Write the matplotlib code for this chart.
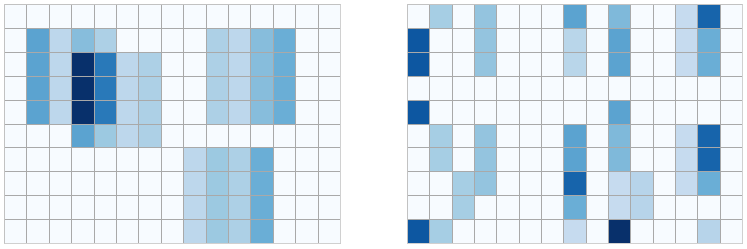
import numpy as np
import matplotlib
matplotlib.use("Agg")
import matplotlib.pyplot as plt

# --- data: cell intensities (0-100), 10 rows x 15 cols ---
left_rows = [
    [0, 0, 0, 0, 0, 0, 0, 0, 0, 0, 0, 0, 0, 0, 0],
    [0, 55, 28, 43, 33, 0, 0, 0, 0, 33, 28, 43, 50, 0, 0],
    [0, 55, 28, 100, 72, 28, 33, 0, 0, 33, 28, 43, 50, 0, 0],
    [0, 55, 28, 100, 72, 28, 33, 0, 0, 33, 28, 43, 50, 0, 0],
    [0, 55, 28, 100, 72, 28, 33, 0, 0, 33, 28, 43, 50, 0, 0],
    [0, 0, 0, 55, 38, 28, 33, 0, 0, 0, 0, 0, 0, 0, 0],
    [0, 0, 0, 0, 0, 0, 0, 0, 28, 38, 33, 50, 0, 0, 0],
    [0, 0, 0, 0, 0, 0, 0, 0, 28, 38, 33, 50, 0, 0, 0],
    [0, 0, 0, 0, 0, 0, 0, 0, 28, 38, 33, 50, 0, 0, 0],
    [0, 0, 0, 0, 0, 0, 0, 0, 28, 38, 33, 50, 0, 0, 0],
]

right_rows = [
    [0, 35, 0, 40, 0, 0, 0, 55, 0, 45, 0, 0, 25, 80, 0],
    [85, 0, 0, 40, 0, 0, 0, 29, 0, 55, 0, 0, 25, 50, 0],
    [85, 0, 0, 40, 0, 0, 0, 29, 0, 55, 0, 0, 25, 50, 0],
    [0, 0, 0, 0, 0, 0, 0, 0, 0, 0, 0, 0, 0, 0, 0],
    [85, 0, 0, 0, 0, 0, 0, 0, 0, 55, 0, 0, 0, 0, 0],
    [0, 35, 0, 40, 0, 0, 0, 55, 0, 45, 0, 0, 25, 80, 0],
    [0, 35, 0, 40, 0, 0, 0, 55, 0, 45, 0, 0, 25, 80, 0],
    [0, 0, 35, 40, 0, 0, 0, 80, 0, 25, 30, 0, 25, 50, 0],
    [0, 0, 35, 0, 0, 0, 0, 50, 0, 25, 30, 0, 0, 0, 0],
    [85, 35, 0, 0, 0, 0, 0, 25, 0, 100, 0, 0, 0, 30, 0],
]

W, H = 747, 249
fig = plt.figure(figsize=(W / 100, H / 100), dpi=100)

# axes boxes in pixels: (left, top, right, bottom)
boxes = [(4, 4, 340, 243), (407, 4, 742, 243)]

for rows, (x0, y0, x1, y1) in zip([left_rows, right_rows], boxes):
    ax = fig.add_axes([x0 / W, 1 - y1 / H, (x1 - x0) / W, (y1 - y0) / H])
    data = np.array(rows, dtype=float)
    ax.pcolormesh(data, cmap="Blues", vmin=0, vmax=100,
                  edgecolors="#a9a9a9", linewidth=0.5)
    ax.set_xlim(0, data.shape[1])
    ax.set_ylim(data.shape[0], 0)
    ax.set_xticks([])
    ax.set_yticks([])
    for s in ax.spines.values():
        s.set_color("#c8c8c8")
        s.set_linewidth(0.6)

fig.savefig("out.png", dpi=100)
